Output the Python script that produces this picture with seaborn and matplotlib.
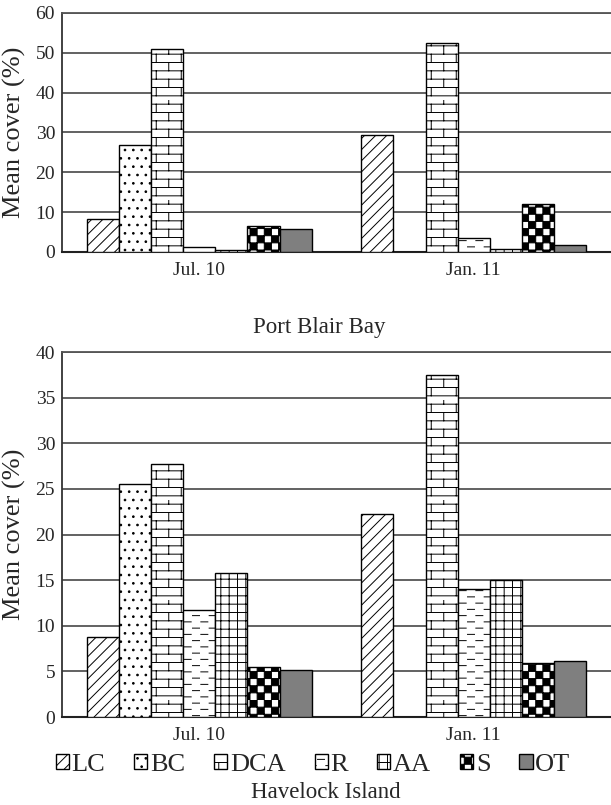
import warnings
import numpy as np
import pandas as pd
import seaborn as sns
import matplotlib
matplotlib.use('Agg')
import matplotlib.pyplot as plt
from matplotlib import hatch as mhatch
from matplotlib.path import Path

warnings.filterwarnings('ignore')

# Data (mean cover, %)
categories = ['LC', 'BC', 'DCA', 'R', 'AA', 'S', 'OT']
periods = ['Jul. 10', 'Jan. 11']

port_blair_jul10 = [8.3, 26.8, 50.9, 1.3, 0.6, 6.4, 5.8]
port_blair_jan11 = [29.3, 0.0, 52.5, 3.6, 0.8, 12.1, 1.7]
havelock_jul10 = [8.8, 25.5, 27.7, 11.7, 15.8, 5.5, 5.1]
havelock_jan11 = [22.2, 0.0, 37.5, 14.0, 15.0, 5.9, 6.1]

top_yticks = [0, 10, 20, 30, 40, 50, 60]
bottom_yticks = [0, 5, 10, 15, 20, 25, 30, 35, 40]


# --- extra hatch patterns: bricks (b), dashes (d), checkerboard (k) ---
def brick_paths(rows=12, per_row=4):
    out = []
    h = 1.0 / rows
    for k in range(rows):
        y0 = (k + 0.5) * h
        out.append(([(0, y0), (1, y0)], False))
        off = 0.25 / per_row if k % 2 == 0 else 0.75 / per_row
        for j in range(per_row):
            x = j / per_row + off
            out.append(([(x, y0), (x, y0 + h)], False))
    return out


def dash_paths(rows=16, per_row=6):
    out = []
    for k in range(rows):
        y = (k + 0.5) / rows
        off = 0.0 if k % 2 == 0 else 0.5 / per_row
        for j in range(per_row):
            x0 = j / per_row + off + 0.05 / per_row
            out.append(([(x0, y), (x0 + 0.42 / per_row, y)], False))
    return out


def checker_paths(cells=14):
    out = []
    s = 1.0 / cells
    for i in range(cells):
        for j in range(cells):
            if (i + j) % 2 == 0:
                x, y = i * s, j * s
                out.append(([(x, y), (x + s, y), (x + s, y + s), (x, y + s), (x, y)], True))
    return out


def make_hatch(char, builder):
    class _Hatch(mhatch.HatchPatternBase):
        def __init__(self, hatch, density):
            self.items = builder() if char in hatch else []
            self.num_vertices = sum(len(p) for p, _ in self.items)

        def set_vertices_and_codes(self, vertices, codes):
            i = 0
            for pts, closed in self.items:
                n = len(pts)
                vertices[i:i + n] = pts
                codes[i] = Path.MOVETO
                codes[i + 1:i + n] = Path.LINETO
                if closed:
                    codes[i + n - 1] = Path.CLOSEPOLY
                i += n

        get_vertices_and_codes = set_vertices_and_codes
    return _Hatch


mhatch._hatch_types.append(make_hatch('b', brick_paths))
mhatch._hatch_types.append(make_hatch('d', dash_paths))
mhatch._hatch_types.append(make_hatch('k', checker_paths))

hatches = {'LC': '///', 'BC': '..', 'DCA': 'b', 'R': 'd', 'AA': '++', 'S': 'k', 'OT': None}
faces = {'LC': 'white', 'BC': 'white', 'DCA': 'white', 'R': 'white', 'AA': 'white',
         'S': 'white', 'OT': '#7f7f7f'}

sns.set_style('white')
plt.rcParams['font.family'] = ['Liberation Serif', 'DejaVu Serif']
plt.rcParams['hatch.linewidth'] = 0.7
plt.rcParams['hatch.color'] = 'black'


def draw_panel(ax, jul, jan, yticks):
    df = pd.DataFrame({
        'period': [periods[0]] * len(categories) + [periods[1]] * len(categories),
        'type': categories * 2,
        'cover': jul + jan,
    })
    sns.barplot(data=df, x='period', y='cover', hue='type', order=periods,
                hue_order=categories, palette=['white'] * len(categories),
                edgecolor='black', linewidth=1.0, width=0.82, legend=False,
                ax=ax, zorder=3)
    for container, cat in zip(ax.containers, categories):
        for bar in container:
            bar.set_facecolor(faces[cat])
            bar.set_edgecolor('black')
            bar.set_hatch(hatches[cat])

    ax.set_ylim(yticks[0], yticks[-1])
    ax.set_yticks(yticks)
    ax.set_axisbelow(True)
    ax.yaxis.grid(True, color='#555555', linewidth=1.3)
    ax.xaxis.grid(False)
    ax.set_xlabel('')
    ax.set_ylabel('Mean cover (%)', fontsize=19)
    ax.yaxis.set_label_coords(-0.066, 0.5)
    ax.tick_params(axis='both', length=0, labelsize=14)
    ax.tick_params(axis='x', pad=7)
    ax.tick_params(axis='y', pad=5)
    ax.spines['right'].set_visible(False)
    ax.spines['top'].set_color('#555555')
    ax.spines['top'].set_linewidth(1.3)
    ax.spines['left'].set_color('#333333')
    ax.spines['left'].set_linewidth(1.3)
    ax.spines['bottom'].set_color('#222222')
    ax.spines['bottom'].set_linewidth(1.5)


fig = plt.figure(figsize=(6.11, 8.05), dpi=100)
ax_top = fig.add_axes([0.1015, 0.687, 0.8985, 0.2969])
ax_bot = fig.add_axes([0.1015, 0.1093, 0.8985, 0.4534])

draw_panel(ax_top, port_blair_jul10, port_blair_jan11, top_yticks)
draw_panel(ax_bot, havelock_jul10, havelock_jan11, bottom_yticks)

fig.text(319 / 611, 1 - 327 / 805, 'Port Blair Bay', ha='center', va='center', fontsize=16.5)
fig.text(326 / 611, 1 - 792 / 805, 'Havelock Island', ha='center', va='center', fontsize=16.5)

fig.legend(ax_bot.containers, categories, loc='center',
           bbox_to_anchor=(313 / 611, 1 - 765 / 805), ncol=7, frameon=False,
           fontsize=19, handlelength=0.5, handleheight=0.5, handletextpad=0.1,
           columnspacing=1.1, borderaxespad=0, borderpad=0)

fig.savefig('out.png', dpi=100)
